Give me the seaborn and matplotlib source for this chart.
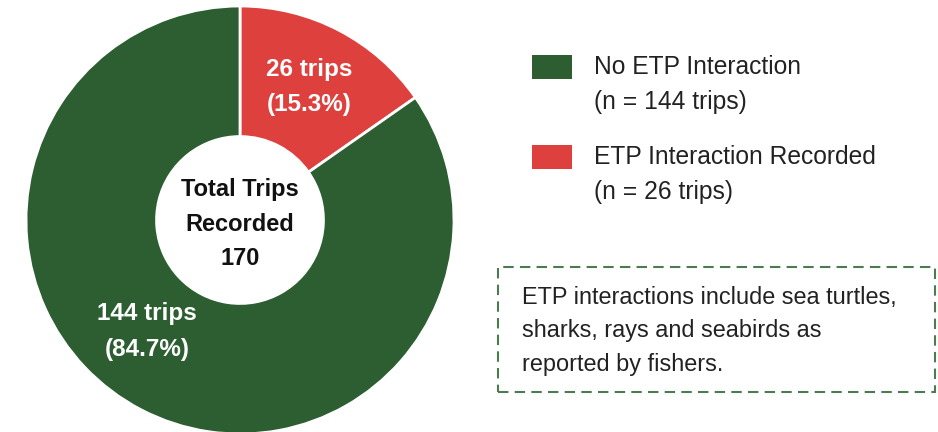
import matplotlib
matplotlib.use("Agg")
import matplotlib.pyplot as plt
from matplotlib.patches import Rectangle
import numpy as np
import seaborn as sns

# data
categories = ["ETP Interaction Recorded", "No ETP Interaction"]
trips = [26, 144]
colors = ["#de403e", "#2c5e31"]
center_lines = ["Total Trips", "Recorded", str(sum(trips))]
note = "ETP interactions include sea turtles,\nsharks, rays and seabirds as\nreported by fishers."

sns.set_theme(style="white")
plt.rcParams["font.family"] = ["Liberation Sans", "DejaVu Sans"]

W, H = 938, 432
fig = plt.figure(figsize=(W / 100, H / 100), dpi=100)
fig.patch.set_facecolor("white")

# donut, centre (240, 220) px, radius 214 px
cx, cy, R = 240, 220, 214
ax = fig.add_axes([(cx - R) / W, (H - cy - R) / H, 2 * R / W, 2 * R / H])
wedges, _ = ax.pie(trips, colors=colors, startangle=90, counterclock=False,
                   radius=1, wedgeprops=dict(width=0.61, edgecolor="white", linewidth=2))
ax.set_xlim(-1, 1)
ax.set_ylim(-1, 1)
ax.set_aspect("equal")
ax.axis("off")
for w in wedges:
    w.set_clip_on(False)

total = sum(trips)
label_pos = {0: None, 1: (-0.435, -0.52)}
for i, (w, n) in enumerate(zip(wedges, trips)):
    if label_pos[i] is None:
        mid = np.deg2rad((w.theta1 + w.theta2) / 2)
        x, y = 0.70 * np.cos(mid), 0.70 * np.sin(mid)
    else:
        x, y = label_pos[i]
    ax.text(x, y, f"{n} trips\n({n / total * 100:.1f}%)", ha="center", va="center",
            color="white", fontsize=17.5, fontweight="bold", linespacing=1.7)

ax.text(0, -0.02, "\n".join(center_lines), ha="center", va="center",
        color="#111111", fontsize=17, fontweight="bold", linespacing=1.65)

# legend drawn by hand
legend_rows = [(1, 67), (0, 157)]
for idx, ty in legend_rows:
    fig.patches.append(Rectangle((532 / W, (H - ty - 12) / H), 40 / W, 24 / H,
                                 transform=fig.transFigure, facecolor=colors[idx],
                                 edgecolor="none"))
    fig.text(594 / W, (H - ty) / H, categories[idx], ha="left", va="center",
             fontsize=17.7, color="#222222")
    fig.text(594 / W, (H - ty - 35) / H, f"(n = {trips[idx]} trips)", ha="left",
             va="center", fontsize=17.7, color="#222222")

# note box
fig.patches.append(Rectangle((498 / W, (H - 392) / H), 437 / W, 125 / H,
                             transform=fig.transFigure, facecolor="none",
                             edgecolor="#4d7a52", linestyle=(0, (5, 3)), linewidth=1.5))
fig.text(522 / W, (H - 331) / H, note, ha="left", va="center", fontsize=16.9,
         color="#222222", linespacing=1.6)

fig.savefig("out.png", dpi=100, facecolor="white")
